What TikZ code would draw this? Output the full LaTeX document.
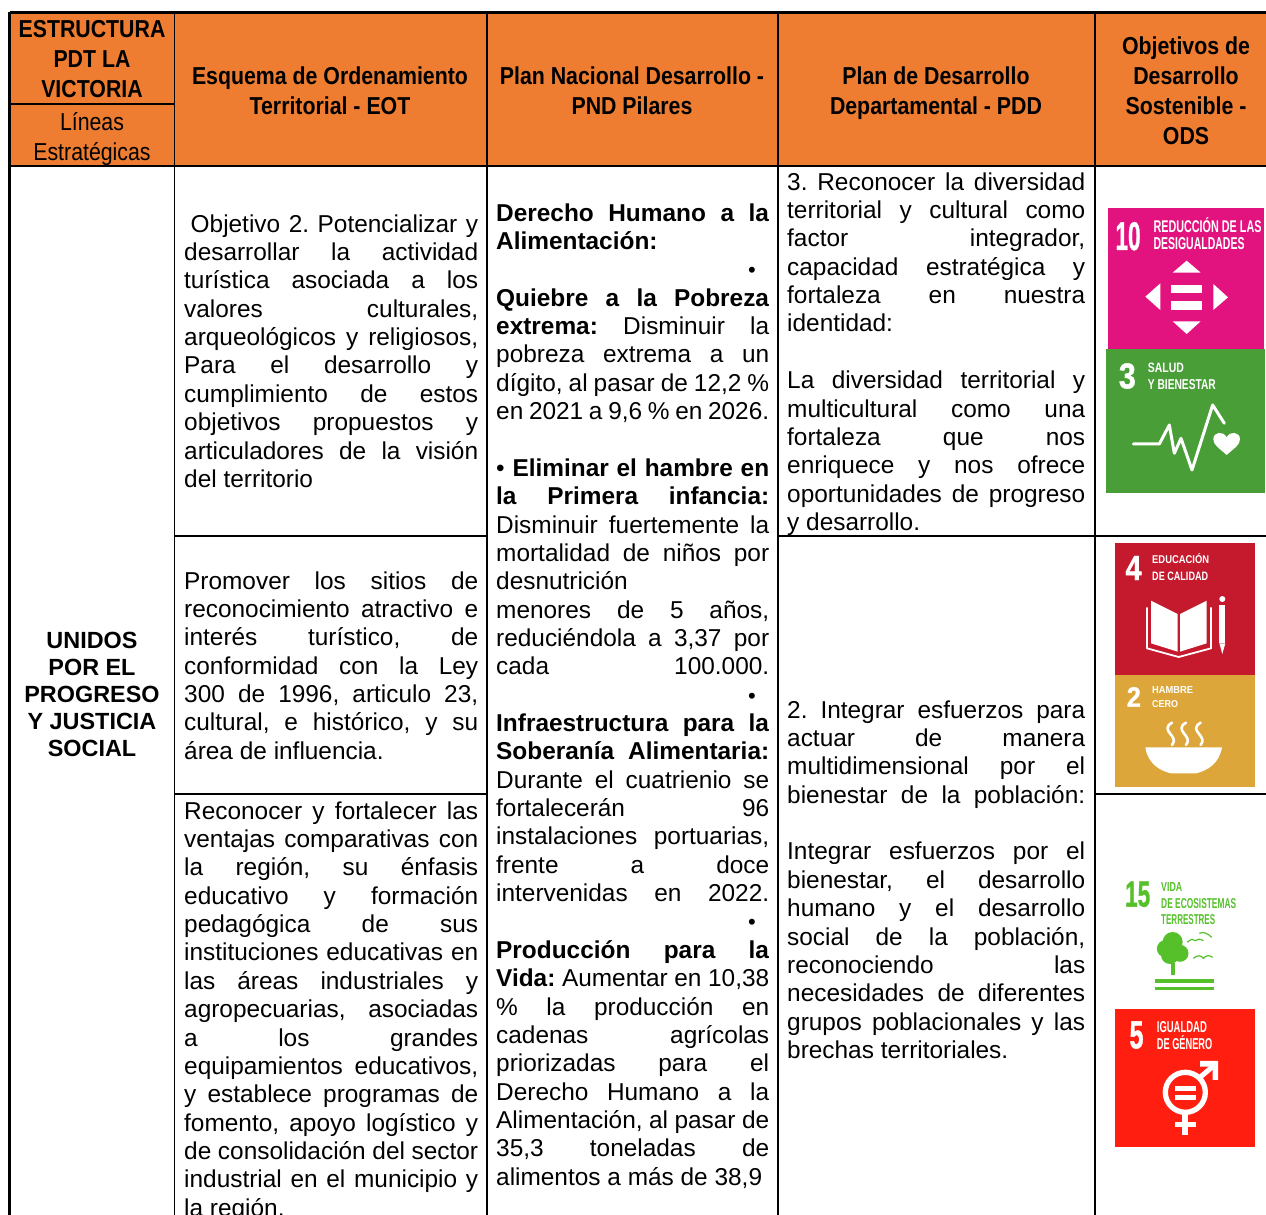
\documentclass[tikz,border=0pt]{standalone}
\usepackage{fontspec}
\usepackage{graphicx}
\setmainfont{Liberation Sans}
\newfontfamily\hdr[FakeStretch=0.87]{Liberation Sans}
\newfontfamily\numf[BoldFeatures={FakeBold=1.2}]{Liberation Sans}
\definecolor{hdrorange}{HTML}{EE7D31}
\definecolor{sdgpink}{HTML}{E2137F}
\definecolor{sdggreen}{HTML}{4A9E38}
\definecolor{sdgred}{HTML}{C5192D}
\definecolor{sdgyellow}{HTML}{DDA63A}
\definecolor{sdgleaf}{HTML}{56C02B}
\definecolor{sdggender}{HTML}{FF1E10}
\newcommand\bstrut{\rule[-8.35pt]{0pt}{28.35pt}}
\newcommand\hstrut{\rule[-9pt]{0pt}{30pt}}
\newcommand\setsp{\frenchspacing\spaceskip=6.8pt plus 300pt minus 1.7pt\relax}
\newcommand\jline[1]{\hbox to \hsize{\setsp\bstrut #1}}
\newcommand\lline[1]{\hbox to \hsize{\setsp\bstrut #1\hfil}}
\newcommand\bline{\hbox to \hsize{\bstrut\hfil}}
\newcommand\bulr{\hfill{\fontsize{22}{22}\selectfont •}\hspace{13.5pt}}
\newcommand\cellbox[2]{\vbox{\hsize=#1pt\fontsize{24.4}{28.35}\selectfont\offinterlineskip #2}}
\newcommand\ic[6]{\node[icontext] (#1) at (#2,#3) {\resizebox{#4pt}{#5pt}{\hdr\bfseries #6}};}
\newcommand\icn[6]{\node[icontext] (#1) at (#2,#3) {\resizebox{#4pt}{#5pt}{\numf\bfseries #6}};}
\tikzset{
  bodycell/.style={anchor=north west,inner sep=0pt},
  headcell/.style={anchor=north,inner sep=0pt,align=center,font=\hdr\bfseries\fontsize{24.5}{30}\selectfont},
  subcell/.style={anchor=north,inner sep=0pt,align=center,font=\hdr\fontsize{24.5}{30}\selectfont},
  linecell/.style={anchor=north,inner sep=0pt,align=center,font=\bfseries\fontsize{23.4}{27}\selectfont},
  rulethin/.style={draw=black,line width=1.1pt},
  rulemid/.style={draw=black,line width=1.7pt},
  rulethick/.style={draw=black,line width=2.8pt},
  icontext/.style={anchor=base west,inner sep=0pt,text=white},
  iconfill/.style={fill=white,draw=none},
  iconline/.style={draw=white,line cap=round,line join=round},
}
\begin{document}
\begin{tikzpicture}[x=1pt,y=-1pt]
\useasboundingbox (0,0) rectangle (1266,1215);
% header band
\fill[hdrorange] (9,13) rectangle (1266,166);
% rules
\draw[rulethick] (9.5,12.5) -- (1266,12.5);
\draw[rulethick] (9.5,12.5) -- (9.5,1215);
\draw[rulemid] (9,104) -- (174,104);
\draw[rulethin] (9,166) -- (1266,166);
\foreach \xx in {174.5,487,778,1095} \draw[rulethin] (\xx,13) -- (\xx,1215);
\draw[rulemid] (174,536) -- (487,536);
\draw[rulemid] (778,536) -- (1266,536);
\draw[rulemid] (174,794) -- (487,794);
\draw[rulemid] (1095,794) -- (1266,794);
% headers
\node[headcell] (h1) at (92,16) {\hstrut ESTRUCTURA\\\hstrut PDT LA\\\hstrut VICTORIA};
\node[subcell] (h1b) at (92,109) {\hstrut Líneas\\\hstrut Estratégicas};
\node[headcell] (h2) at (330,63) {\hstrut Esquema de Ordenamiento\\\hstrut Territorial - EOT};
\node[headcell] (h3) at (632,63) {\hstrut Plan Nacional Desarrollo -\\\hstrut PND Pilares};
\node[headcell] (h4) at (936,63) {\hstrut Plan de Desarrollo\\\hstrut Departamental - PDD};
\node[headcell] (h5) at (1186,33) {\hstrut Objetivos de\\\hstrut Desarrollo\\\hstrut Sostenible -\\\hstrut ODS};
% left column
\node[linecell] (lin) at (92,628) {\rule[-7pt]{0pt}{27pt}UNIDOS\\\rule[-7pt]{0pt}{27pt}POR EL\\\rule[-7pt]{0pt}{27pt}PROGRESO\\\rule[-7pt]{0pt}{27pt}Y JUSTICIA\\\rule[-7pt]{0pt}{27pt}SOCIAL};
% EOT column
\node[bodycell] (eota) at (184,212) {\cellbox{294}{%
\jline{\hspace{6.5pt}Objetivo 2. Potencializar y}
\jline{desarrollar la actividad}
\jline{turística asociada a los}
\jline{valores culturales,}
\jline{arqueológicos y religiosos,}
\jline{Para el desarrollo y}
\jline{cumplimiento de estos}
\jline{objetivos propuestos y}
\jline{articuladores de la visión}
\lline{del territorio}}};
\node[bodycell] (eotb) at (184,569) {\cellbox{294}{%
\jline{Promover los sitios de}
\jline{reconocimiento atractivo e}
\jline{interés turístico, de}
\jline{conformidad con la Ley}
\jline{300 de 1996, articulo 23,}
\jline{cultural, e histórico, y su}
\lline{área de influencia.}}};
\node[bodycell] (eotc) at (184,799) {\cellbox{294}{%
\jline{Reconocer y fortalecer las}
\jline{ventajas comparativas con}
\jline{la región, su énfasis}
\jline{educativo y formación}
\jline{pedagógica de sus}
\jline{instituciones educativas en}
\jline{las áreas industriales y}
\jline{agropecuarias, asociadas}
\jline{a los grandes}
\jline{equipamientos educativos,}
\jline{y establece programas de}
\jline{fomento, apoyo logístico y}
\jline{de consolidación del sector}
\jline{industrial en el municipio y}
\lline{la región.}}};
% PND column
\node[bodycell] (pnd) at (496,201) {\cellbox{273}{%
\jline{\textbf{Derecho Humano a la}}
\lline{\textbf{Alimentación:}}
\jline{\bulr}
\jline{\textbf{Quiebre a la Pobreza}}
\jline{\textbf{extrema:} Disminuir la}
\jline{pobreza extrema a un}
\jline{dígito, al pasar de 12,2 \%}
\lline{en 2021 a 9,6 \% en 2026.}
\bline
\jline{• \textbf{Eliminar el hambre en}}
\jline{\textbf{la Primera infancia:}}
\jline{Disminuir fuertemente la}
\jline{mortalidad de niños por}
\lline{desnutrición}
\jline{menores de 5 años,}
\jline{reduciéndola a 3,37 por}
\jline{cada 100.000.}
\jline{\bulr}
\jline{\textbf{Infraestructura para la}}
\jline{\textbf{Soberanía Alimentaria:}}
\jline{Durante el cuatrienio se}
\jline{fortalecerán 96}
\jline{instalaciones portuarias,}
\jline{frente a doce}
\jline{intervenidas en 2022.}
\jline{\bulr}
\jline{\textbf{Producción para la}}
\jline{\textbf{Vida:} Aumentar en 10,38}
\jline{\% la producción en}
\jline{cadenas agrícolas}
\jline{priorizadas para el}
\jline{Derecho Humano a la}
\jline{Alimentación, al pasar de}
\jline{35,3 toneladas de}
\lline{alimentos a más de 38,9}}};
% PDD column
\node[bodycell] (pdda) at (787,170) {\cellbox{298}{%
\jline{3. Reconocer la diversidad}
\jline{territorial y cultural como}
\jline{factor integrador,}
\jline{capacidad estratégica y}
\jline{fortaleza en nuestra}
\lline{identidad:}
\bline
\jline{La diversidad territorial y}
\jline{multicultural como una}
\jline{fortaleza que nos}
\jline{enriquece y nos ofrece}
\jline{oportunidades de progreso}
\lline{y desarrollo.}}};
\node[bodycell] (pddb) at (787,698) {\cellbox{298}{%
\jline{2. Integrar esfuerzos para}
\jline{actuar de manera}
\jline{multidimensional por el}
\jline{bienestar de la población:}
\bline
\jline{Integrar esfuerzos por el}
\jline{bienestar, el desarrollo}
\jline{humano y el desarrollo}
\jline{social de la población,}
\jline{reconociendo las}
\jline{necesidades de diferentes}
\jline{grupos poblacionales y las}
\lline{brechas territoriales.}}};
% SDG tiles 10 and 3
\begin{scope}[shift={(1096,190)},x=0.3333pt,y=-0.3333pt]
\fill[sdgpink] (36,55) rectangle (505,478);
\fill[sdggreen] (31,478) rectangle (508,908);
\icn{s10n}{58}{180}{25}{28}{10}
\ic{s10a}{172}{128}{108}{15}{REDUCCIÓN DE LAS}
\ic{s10b}{172}{180}{91}{12}{DESIGUALDADES}
\fill[iconfill] (230,248) -- (272,212) -- (314,248) -- cycle;
\fill[iconfill] (226,284) rectangle (318,310);
\fill[iconfill] (226,334) rectangle (318,360);
\fill[iconfill] (193,280) -- (148,320) -- (193,360) -- cycle;
\fill[iconfill] (352,282) -- (396,322) -- (352,360) -- cycle;
\fill[iconfill] (230,394) -- (272,432) -- (314,394) -- cycle;
\icn{s3n}{68}{595}{17}{25}{3}
\ic{s3a}{155}{547}{36}{9.5}{SALUD}
\ic{s3b}{155}{600}{68}{10}{Y BIENESTAR}
\draw[iconline,line width=3pt] (112,762) -- (190,762) -- (220,705) -- (235,790) -- (255,745) -- (288,840) -- (350,645) -- (385,700);
\fill[iconfill] (392,795) .. controls (370,775) and (352,765) .. (352,748) .. controls (352,725) and (382,722) .. (392,742) .. controls (402,722) and (432,725) .. (432,748) .. controls (432,765) and (414,775) .. (392,795) -- cycle;
\end{scope}
% SDG tiles 4 and 2
\begin{scope}[shift={(1096,530)},x=0.3333pt,y=-0.3333pt]
\fill[sdgred] (58,38) rectangle (478,435);
\fill[sdgyellow] (58,435) rectangle (478,772);
\icn{s4n}{88}{150}{16}{24}{4}
\ic{s4a}{168}{100}{57}{10}{EDUCACIÓN}
\ic{s4b}{168}{150}{56}{8.5}{DE CALIDAD}
\fill[iconfill] (165,212) -- (245,252) -- (245,365) -- (165,340) -- cycle;
\fill[iconfill] (252,252) -- (332,212) -- (332,340) -- (252,365) -- cycle;
\draw[iconline,line width=1.8pt,line cap=butt] (153,232) -- (153,355) -- (248,381) -- (345,355) -- (345,232);
\fill[iconfill] (370,225) rectangle (388,340);
\fill[iconfill] (370,340) -- (379,372) -- (388,340) -- cycle;
\fill[iconfill] (379,207) circle[radius=3pt];
\icn{s2n}{92}{530}{14}{19.5}{2}
\ic{s2a}{168}{490}{41}{7}{HAMBRE}
\ic{s2b}{168}{532}{26}{7}{CERO}
\foreach \sx in {0,42,86}
  \draw[iconline,line width=2.6pt] (228+\sx,578) .. controls (188+\sx,602) and (252+\sx,618) .. (228+\sx,645);
\fill[iconfill] (148,652) -- (378,652) .. controls (370,700) and (335,722) .. (300,730) -- (225,730) .. controls (190,722) and (155,700) .. (148,652) -- cycle;
\end{scope}
% SDG icons 15 and 5
\begin{scope}[shift={(1096,860)},x=0.3333pt,y=-0.3333pt]
\begin{scope}
\tikzset{icontext/.append style={text=sdgleaf}}
\icn{s15n}{87}{140}{25}{25}{15}
\ic{s15a}{195}{95}{21}{9}{VIDA}
\ic{s15b}{195}{145}{75}{10}{DE ECOSISTEMAS}
\ic{s15c}{195}{192}{54}{10}{TERRESTRES}
\end{scope}
\fill[sdgleaf] (230,246) circle[radius=10pt];
\fill[sdgleaf] (208,266) circle[radius=8.5pt];
\fill[sdgleaf] (252,280) circle[radius=8.5pt];
\fill[sdgleaf] (222,285) circle[radius=9pt];
\fill[sdgleaf] (225,310) rectangle (238,346);
\fill[sdgleaf] (178,358) rectangle (355,370);
\fill[sdgleaf] (178,380) rectangle (355,391);
\draw[sdgleaf,line width=1.2pt] (274,247) .. controls (285,236) and (292,236) .. (298,242) .. controls (304,236) and (312,236) .. (322,242);
\draw[sdgleaf,line width=1.2pt] (310,220) .. controls (322,214) and (335,220) .. (347,232);
\draw[sdgleaf,line width=1.2pt] (292,295) .. controls (305,284) and (315,286) .. (322,295) .. controls (330,286) and (340,284) .. (350,292);
\fill[sdggender] (58,448) rectangle (478,862);
\icn{s5n}{100}{565}{14}{27}{5}
\ic{s5a}{182}{518}{50}{11}{IGUALDAD}
\ic{s5b}{182}{568}{55.5}{14}{DE GÉNERO}
\draw[white,line width=5.3pt] (268,697) circle[radius=20pt];
\fill[iconfill] (237,678) rectangle (300,692);
\fill[iconfill] (237,705) rectangle (300,720);
\draw[white,line width=5pt] (312,652) -- (352,618);
\fill[iconfill] (312,603) -- (366,603) -- (366,660) -- (350,660) -- (350,620) -- (312,620) -- cycle;
\draw[white,line width=6pt] (268,760) -- (268,826);
\draw[white,line width=5pt] (237,795) -- (300,795);
\end{scope}
\end{tikzpicture}
\end{document}
